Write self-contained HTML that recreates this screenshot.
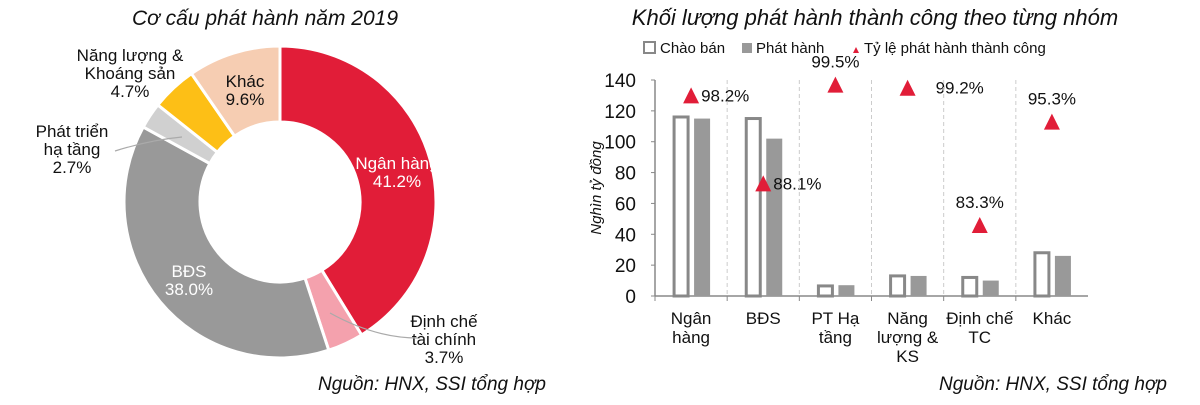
<!DOCTYPE html>
<html><head><meta charset="utf-8">
<style>
body{margin:0;background:#fff;font-family:"Liberation Sans",sans-serif;}
svg text{font-family:"Liberation Sans",sans-serif;}
</style></head>
<body>
<svg width="1200" height="400" viewBox="0 0 1200 400">
<text x="265" y="25" text-anchor="middle" font-size="21" font-style="italic" fill="#111">Cơ cấu phát hành năm 2019</text>
<text x="875" y="25" text-anchor="middle" font-size="22" font-style="italic" fill="#111">Khối lượng phát hành thành công theo từng nhóm</text>
<g id="pie"></g>
<g id="bar"></g>
<text x="432" y="390" text-anchor="middle" font-size="19" font-style="italic" fill="#111">Nguồn: HNX, SSI tổng hợp</text>
<text x="1053" y="390" text-anchor="middle" font-size="19" font-style="italic" fill="#111">Nguồn: HNX, SSI tổng hợp</text>
</svg>
<script>
const pieLabels=["Ngân hàng","Định chế tài chính","BĐS","Phát triển hạ tầng","Năng lượng & Khoáng sản","Khác"];
const pieValues=[41.2,3.7,38.0,2.7,4.7,9.6];
const pieColors=["#e11d38","#f4a1ad","#999999","#d0d0d0","#fdbf16","#f6cdb2"];

const categories=["Ngân hàng","BĐS","PT Hạ tầng","Năng lượng & KS","Định chế TC","Khác"];
const offered=[117,116,7.5,14,13,29];
const issued=[115,102,7,13,10,26];
const ratioLabels=["98.2%","88.1%","99.5%","99.2%","83.3%","95.3%"];
const ratioMarkY=[130,73,137,135,46,113];
const yTicks=[0,20,40,60,80,100,120,140];

const NS="http://www.w3.org/2000/svg";
function mk(tag,attrs,parent){const e=document.createElementNS(NS,tag);for(const k in attrs)e.setAttribute(k,attrs[k]);parent.appendChild(e);return e;}

// donut
const pie=document.getElementById('pie');
const cx=280,cy=202,R=156,r=80;
const total=pieValues.reduce((a,b)=>a+b,0);
let a0=0;
function pt(rad,ang){return [cx+rad*Math.sin(ang),cy-rad*Math.cos(ang)];}
pieValues.forEach((v,i)=>{
  const a1=a0+v/total*2*Math.PI;
  const large=(a1-a0)>Math.PI?1:0;
  const p1=pt(R,a0),p2=pt(R,a1),p3=pt(r,a1),p4=pt(r,a0);
  const p=mk('path',{d:`M${p1}A${R},${R} 0 ${large} 1 ${p2}L${p3}A${r},${r} 0 ${large} 0 ${p4}Z`,fill:pieColors[i],stroke:'#fff','stroke-width':3},pie);
  
  
  a0=a1;
});
const pieText=[
 {x:397,y:169,l:["Ngân hàng","41.2%"],c:"#fff"},
 {x:444,y:327,l:["Định chế","tài chính","3.7%"],c:"#111"},
 {x:189,y:277,l:["BĐS","38.0%"],c:"#fff"},
 {x:72,y:137,l:["Phát triển","hạ tầng","2.7%"],c:"#111"},
 {x:130,y:61,l:["Năng lượng &","Khoáng sản","4.7%"],c:"#111"},
 {x:245,y:87,l:["Khác","9.6%"],c:"#111"}];
pieText.forEach((t,i)=>{
  t.l.forEach((s,j)=>{
    const e=mk('text',{x:t.x,y:t.y+j*18,'text-anchor':'middle','font-size':17,fill:t.c},pie);e.textContent=s;
    
    
  });
});
mk('path',{d:'M115,151 Q150,140 182,137',stroke:'#aaa',fill:'none','stroke-width':1.2},pie);
mk('path',{d:'M330,313 Q375,338 418,338',stroke:'#aaa',fill:'none','stroke-width':1.2},pie);

// bars
const bar=document.getElementById('bar');
const x0=655,x1=1088,yb=296,yt=80,ymax=140;
const cw=(x1-x0)/categories.length;
const Y=v=>yb-(v/ymax)*(yb-yt);
const X=i=>x0+cw*i;
// legend
mk('rect',{x:644,y:42,width:11,height:11,fill:'#fff',stroke:'#888','stroke-width':2},bar);
let lt=mk('text',{x:660,y:53,'font-size':15,fill:'#111'},bar);lt.textContent="Chào bán";
mk('rect',{x:742,y:43,width:10,height:10,fill:'#999'},bar);
lt=mk('text',{x:756,y:53,'font-size':15,fill:'#111'},bar);lt.textContent="Phát hành";
mk('path',{d:'M853,53 L856,47 L859,53Z',fill:'#e11d38'},bar);
lt=mk('text',{x:864,y:53,'font-size':15,fill:'#111'},bar);lt.textContent="Tỷ lệ phát hành thành công";
// y axis
mk('line',{x1:x0,y1:yt,x2:x0,y2:yb,stroke:'#888','stroke-width':1.5},bar);
yTicks.forEach(t=>{
  mk('line',{x1:x0-4,y1:Y(t),x2:x0,y2:Y(t),stroke:'#888'},bar);
  const e=mk('text',{x:x0-19,y:Y(t)+7,'text-anchor':'end','font-size':19,fill:'#111'},bar);e.textContent=t;
  
  
});
const yl=mk('text',{x:0,y:0,transform:`translate(601,188) rotate(-90)`,'text-anchor':'middle','font-size':15,'font-style':'italic',fill:'#111'},bar);yl.textContent="Nghìn tỷ đồng";

mk('line',{x1:x0,y1:yb,x2:x1,y2:yb,stroke:'#888','stroke-width':1.5},bar);
categories.forEach((c,i)=>{
  if(i>0){mk('line',{x1:X(i),y1:yt,x2:X(i),y2:yb,stroke:'#ccc','stroke-dasharray':'4,3'},bar);}
  mk('line',{x1:X(i),y1:yb,x2:X(i),y2:yb+5,stroke:'#888'},bar);
  const c0=X(i)+cw/2;
  const b1=mk('rect',{x:c0-17,y:Y(offered[i])+1.5,width:14,height:Math.max(0,yb-Y(offered[i])-1.5),fill:'#fff',stroke:'#888','stroke-width':3},bar);
  
  
  const b2=mk('rect',{x:c0+3,y:Y(issued[i]),width:16,height:yb-Y(issued[i]),fill:'#999'},bar);
  
  
  const ty=Y(ratioMarkY[i]);
  const tr=mk('path',{d:`M${c0-8},${ty+8} L${c0},${ty-8} L${c0+8},${ty+8}Z`,fill:'#e11d38'},bar);
  
  
  const pos=[[10,6,'start'],[10,6,'start'],[0,-17,'middle'],[28,6,'start'],[0,-17,'middle'],[0,-17,'middle']][i];
  const rl=mk('text',{x:c0+pos[0],y:ty+pos[1],'text-anchor':pos[2],'font-size':17,fill:'#111'},bar);rl.textContent=ratioLabels[i];
  
  const lines={0:["Ngân","hàng"],1:["BĐS"],2:["PT  Hạ","tầng"],3:["Năng","lượng &","KS"],4:["Định chế","TC"],5:["Khác"]}[i];
  lines.forEach((s,j)=>{
    const e=mk('text',{x:c0,y:324+j*19,'text-anchor':'middle','font-size':17,fill:'#111'},bar);e.textContent=s;
    
    
  });
});
</script>
</body></html>
